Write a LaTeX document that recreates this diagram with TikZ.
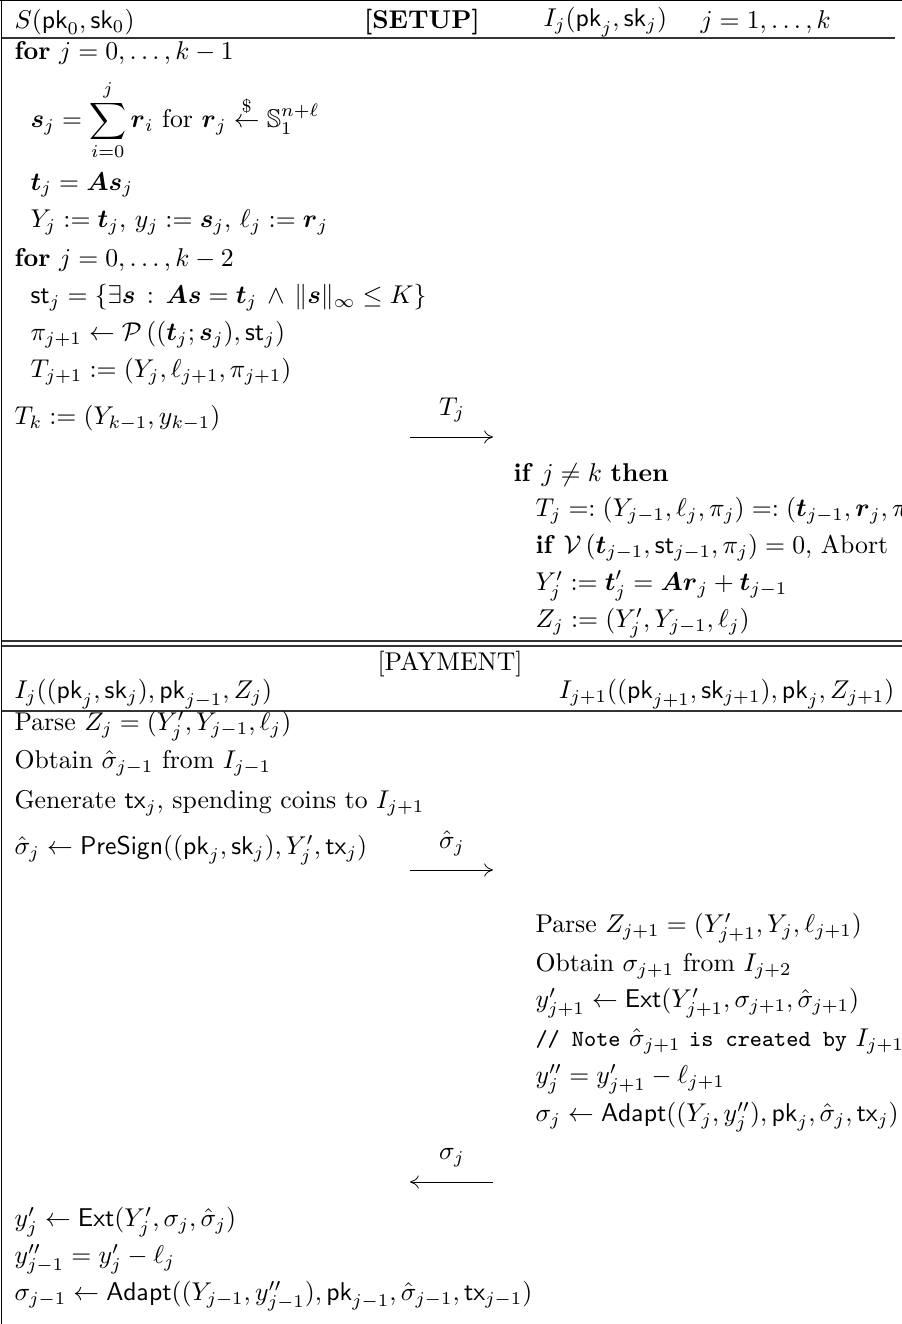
\documentclass[tikz,border=0pt]{standalone}
\usepackage{amsmath,amssymb,amsfonts}
\usepackage{tikz}
\usetikzlibrary{arrows.meta}
\newcommand{\mpk}{\mathsf{pk}}
\newcommand{\msk}{\mathsf{sk}}
\newcommand{\mtx}{\mathsf{tx}}
\newcommand{\mst}{\mathsf{st}}
\newcommand{\vb}[1]{\boldsymbol{#1}}
\newcommand{\algo}[1]{\mathsf{#1}}
\newcommand{\cmt}[1]{{\fontsize{9}{10}\selectfont\ttfamily #1}}

\begin{document}
\begin{tikzpicture}[
x=0.389pt, y=-0.389pt,
stmt/.style={anchor=west, inner sep=0pt},
hdr/.style={anchor=west, inner sep=0pt},
lbl/.style={inner sep=0pt},
frame/.style={line width=0.6pt, black},
sep/.style={line width=0.4pt, black!80},
msg/.style={-{To[length=1.2mm,width=1.8mm]}, line width=0.3pt}
]
\useasboundingbox (0,0) rectangle (902,1324);
\draw[frame] (0,0.5) -- (902,0.5);
\draw[frame] (1.5,0) -- (1.5,1324);

% setup header
\node[hdr] (hS) at (14,22) {$S(\mpk_0,\msk_0)$};
\node[lbl] (hsetup) at (422,22) {\textbf{[SETUP]}};
\node[hdr] (hI) at (543,22) {$I_j(\mpk_j,\msk_j)$};
\node[hdr] (hj) at (700,22) {$j=1,\ldots,k$};
\draw[sep] (1.5,38) -- (895,38);

% sender side
\node[stmt] (for1) at (14,53) {\textbf{for} $j=0,\ldots,k-1$};
\node[stmt] (sj) at (30,120) {$\displaystyle \vb{s}_j=\sum_{i=0}^{j}\vb{r}_i$ for $\vb{r}_j\overset{\$}{\leftarrow}\mathbb{S}_1^{n+\ell}$};
\node[stmt] (tj) at (30,185) {$\vb{t}_j=\vb{A}\vb{s}_j$};
\node[stmt] (Yj) at (30,222) {$Y_j:=\vb{t}_j,\,y_j:=\vb{s}_j,\,\ell_j:=\vb{r}_j$};
\node[stmt] (for2) at (14,260) {\textbf{for} $j=0,\ldots,k-2$};
\node[stmt] (stj) at (30,298) {$\mst_j=\{\exists\vb{s}\,:\,\vb{A}\vb{s}=\vb{t}_j\,\wedge\,\|\vb{s}\|_\infty\le K\}$};
\node[stmt] (pij) at (30,335) {$\pi_{j+1}\leftarrow\mathcal{P}\left((\vb{t}_j;\vb{s}_j),\mst_j\right)$};
\node[stmt] (Tj1) at (30,372) {$T_{j+1}:=(Y_j,\ell_{j+1},\pi_{j+1})$};
\node[stmt] (Tk) at (14,418) {$T_k:=(Y_{k-1},y_{k-1})$};

% message T_j
\node[lbl] (mTl) at (452,410) {$T_j$};
\coordinate (mTa) at (410,437);
\coordinate (mTb) at (493,437);
\draw[msg] (mTa) -- (mTb);

% intermediary side
\node[stmt] (ifk) at (513,475) {\textbf{if} $j\neq k$ \textbf{then}};
\node[stmt] (Tjp) at (535,511) {$T_j=:(Y_{j-1},\ell_j,\pi_j)=:(\vb{t}_{j-1},\vb{r}_j,\pi_j)$};
\node[stmt] (ifV) at (535,548) {\textbf{if} $\mathcal{V}\left(\vb{t}_{j-1},\mst_{j-1},\pi_j\right)=0,$ Abort};
\node[stmt] (Ypj) at (535,586) {$Y'_j:=\vb{t}'_j=\vb{A}\vb{r}_j+\vb{t}_{j-1}$};
\node[stmt] (Zj) at (535,623) {$Z_j:=(Y'_j,Y_{j-1},\ell_j)$};

% payment header
\draw[sep] (1.5,641) -- (902,641);
\draw[sep] (1.5,646) -- (902,646);
\node[lbl] (hpay) at (450,664) {[PAYMENT]};
\node[hdr] (hIj) at (14,694) {$I_j((\mpk_j,\msk_j),\mpk_{j-1},Z_j)$};
\node[anchor=east, inner sep=0pt] (hIj1) at (895,694) {$I_{j+1}((\mpk_{j+1},\msk_{j+1}),\mpk_j,Z_{j+1})$};
\draw[sep] (1.5,711) -- (902,711);

% left intermediary
\node[stmt] (parse1) at (14,726) {Parse $Z_j=(Y'_j,Y_{j-1},\ell_j)$};
\node[stmt] (obt1) at (14,763) {Obtain $\hat{\sigma}_{j-1}$ from $I_{j-1}$};
\node[stmt] (gen) at (14,803) {Generate $\mtx_j$, spending coins to $I_{j+1}$};
\node[stmt] (presig) at (14,850) {$\hat{\sigma}_j\leftarrow\algo{PreSign}((\mpk_j,\msk_j),Y'_j,\mtx_j)$};

% message presignature
\node[lbl] (mSl) at (452,843) {$\hat{\sigma}_j$};
\coordinate (mSa) at (410,870);
\coordinate (mSb) at (493,870);
\draw[msg] (mSa) -- (mSb);

% right intermediary
\node[stmt] (parse2) at (535,928) {Parse $Z_{j+1}=(Y'_{j+1},Y_j,\ell_{j+1})$};
\node[stmt] (obt2) at (535,966) {Obtain $\sigma_{j+1}$ from $I_{j+2}$};
\node[stmt] (ext2) at (535,1003) {$y'_{j+1}\leftarrow\algo{Ext}(Y'_{j+1},\sigma_{j+1},\hat{\sigma}_{j+1})$};
\node[stmt] (note) at (535,1041) {\cmt{// Note} $\hat{\sigma}_{j+1}$ \cmt{is created by} $I_{j+1}$};
\node[stmt] (ypp) at (535,1079) {$y''_j=y'_{j+1}-\ell_{j+1}$};
\node[stmt] (adapt2) at (535,1117) {$\sigma_j\leftarrow\algo{Adapt}((Y_j,y''_j),\mpk_j,\hat{\sigma}_j,\mtx_j)$};

% message signature
\node[lbl] (mGl) at (452,1158) {$\sigma_j$};
\coordinate (mGa) at (493,1182);
\coordinate (mGb) at (410,1182);
\draw[msg] (mGa) -- (mGb);

% left intermediary, last step
\node[stmt] (ext1) at (14,1222) {$y'_j\leftarrow\algo{Ext}(Y'_j,\sigma_j,\hat{\sigma}_j)$};
\node[stmt] (ypp1) at (14,1259) {$y''_{j-1}=y'_j-\ell_j$};
\node[stmt] (adapt1) at (14,1296) {$\sigma_{j-1}\leftarrow\algo{Adapt}((Y_{j-1},y''_{j-1}),\mpk_{j-1},\hat{\sigma}_{j-1},\mtx_{j-1})$};
\end{tikzpicture}
\end{document}
